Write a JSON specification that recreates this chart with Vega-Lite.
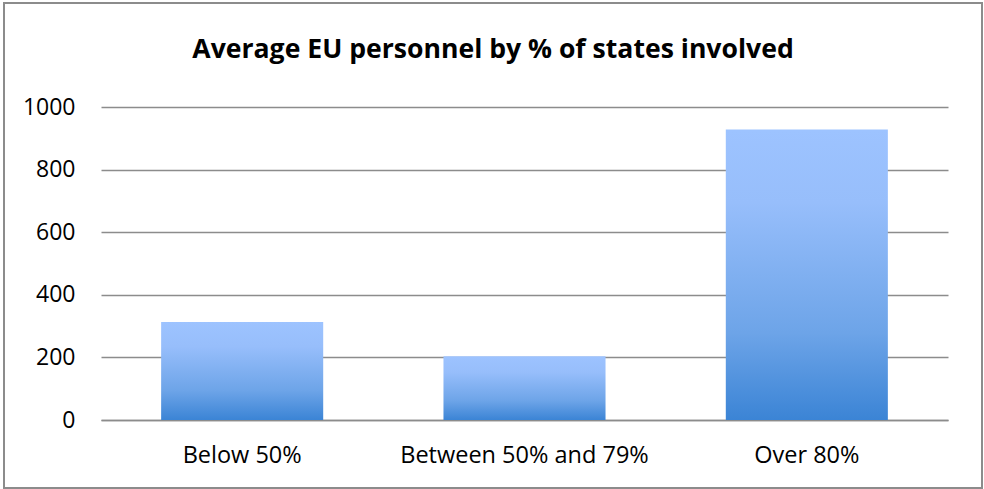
{
  "$schema": "https://vega.github.io/schema/vega-lite/v6.json",
  "width": 978,
  "height": 485,
  "autosize": {"type": "none"},
  "padding": {"left": 4, "top": 3, "right": 2, "bottom": 1},
  "background": "white",
  "title": {
    "text": "Average EU personnel by % of states involved",
    "font": "Open Sans",
    "fontSize": 26.6,
    "fontWeight": "bold",
    "color": "#000000",
    "anchor": "middle",
    "frame": "group",
    "baseline": "alphabetic",
    "offset": 0,
    "dy": 82
  },
  "data": {
    "values": [
      {"category": "Below 50%", "personnel": 313},
      {"category": "Between 50% and 79%", "personnel": 204},
      {"category": "Over 80%", "personnel": 928}
    ]
  },
  "mark": {
    "type": "bar",
    "color": {
      "gradient": "linear",
      "x1": 0, "y1": 0, "x2": 0, "y2": 1,
      "stops": [
        {"offset": 0, "color": "#9DC3FF"},
        {"offset": 0.25, "color": "#97BEFB"},
        {"offset": 0.7, "color": "#6DA4E8"},
        {"offset": 1, "color": "#3B84D5"}
      ]
    }
  },
  "encoding": {
    "x": {
      "field": "category",
      "type": "nominal",
      "sort": null,
      "scale": {"range": [97, 944], "paddingInner": 0.426, "paddingOuter": 0.213},
      "axis": {
        "title": null,
        "orient": "bottom",
        "offset": -68,
        "domainColor": "#8c8c8c",
        "domainWidth": 1.5,
        "ticks": false,
        "tickSize": 0,
        "labelPadding": 42,
        "labelBaseline": "alphabetic",
        "labelAngle": 0,
        "labelLimit": 400,
        "labelFont": "Open Sans",
        "labelFontSize": 23.5,
        "labelColor": "#000000",
        "grid": false
      }
    },
    "y": {
      "field": "personnel",
      "type": "quantitative",
      "scale": {"domain": [0, 1000], "range": [417, 104], "nice": false},
      "axis": {
        "title": null,
        "offset": -97,
        "format": "d",
        "values": [0, 200, 400, 600, 800, 1000],
        "domain": false,
        "ticks": false,
        "tickSize": 0,
        "labelPadding": 26,
        "labelFont": "Open Sans",
        "labelFontSize": 23,
        "labelColor": "#000000",
        "gridColor": "#8c8c8c",
        "gridWidth": 1.5
      }
    }
  },
  "config": {"view": {"stroke": "#8c8c8c", "strokeWidth": 2}}
}
